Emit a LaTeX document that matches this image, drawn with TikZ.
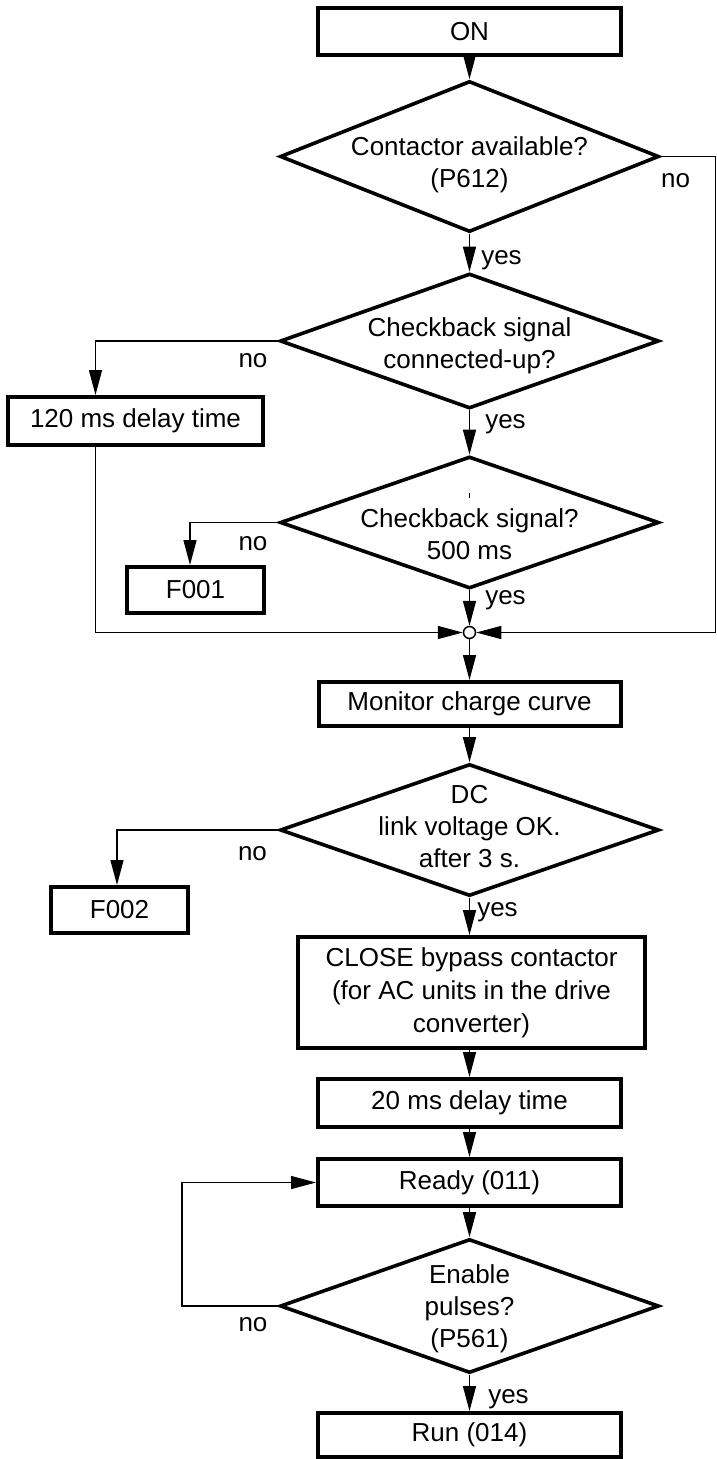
\documentclass[tikz,border=0pt]{standalone}
\usepackage{fontspec}
\setmainfont{Liberation Sans}
\usetikzlibrary{shapes.geometric,arrows.meta,calc}
\begin{document}
\begin{tikzpicture}[x=1pt,y=-1pt,
  box/.style={draw,line width=4pt,rectangle,inner sep=0pt,align=center,font=\fontsize{26}{33}\selectfont},
  dia/.style={draw,line width=3.6pt,diamond,inner sep=0pt,minimum width=379pt,minimum height=#1},
  txt/.style={align=center,font=\fontsize{26}{32}\selectfont,inner sep=0pt},
  lbl/.style={font=\fontsize{26}{31}\selectfont,inner sep=0pt},
  arr/.style={line width=1.4pt,-{Triangle[length=25pt,width=13pt]}},
]
\useasboundingbox (0,0) rectangle (717,1459);

% main column
\node[box,minimum width=303pt,minimum height=47pt] (on) at (469.5,31.5) {ON};
\node[dia=151pt] (d1) at (469.5,156.5) {};
\node[txt] (t1) at (469.5,165) {Contactor available?\\(P612)};
\node[dia=135pt] (d2) at (469.5,341) {};
\node[txt] (t2) at (469.5,346) {Checkback signal\\connected-up?};
\node[dia=132pt] (d3) at (469.5,522.5) {};
\node[txt] (t3) at (469.5,534) {Checkback signal?\\500 ms};
\node[circle,draw,line width=1.5pt,minimum size=12pt,inner sep=0pt] (m) at (469.5,632.5) {};
\node[box,minimum width=302pt,minimum height=44pt] (mon) at (469.5,704) {Monitor charge curve};
\node[dia=132pt] (d4) at (469.5,830) {};
\node[txt] (t4) at (469.5,827) {DC\\link voltage OK.\\after 3 s.};
\node[box,minimum width=347pt,minimum height=111pt] (close) at (471.5,992.5) {CLOSE bypass contactor\\(for AC units in the drive\\converter)};
\node[box,minimum width=303pt,minimum height=48pt] (d20) at (469.5,1103) {20 ms delay time};
\node[box,minimum width=303pt,minimum height=47pt] (ready) at (469.5,1182.5) {Ready (011)};
\node[dia=134pt] (d5) at (469.5,1306) {};
\node[txt] (t5) at (469.5,1309) {Enable\\pulses?\\(P561)};
\node[box,minimum width=303pt,minimum height=44pt] (run) at (469.5,1435) {Run (014)};

% side boxes
\node[box,minimum width=255pt,minimum height=48pt] (b120) at (135.5,421) {120 ms delay time};
\node[box,minimum width=137pt,minimum height=46pt] (f1) at (195.5,590) {F001};
\node[box,minimum width=137pt,minimum height=46pt] (f2) at (119.5,910) {F002};

% routing coordinates
\coordinate (rc) at (715.5,0);
\coordinate (lx) at (95.5,0);
\coordinate (l3) at (190,0);
\coordinate (l4) at (117,0);
\coordinate (lp) at (182,0);

% main arrows
\draw[arr] (on.south) -- (d1.north);
\draw[arr] (d1.south) -- (d2.north);
\draw[arr] (d2.south) -- (d3.north);
\draw[arr] (d3.south) -- (m.north);
\draw[arr] (m.south) -- (mon.north);
\draw[arr] (mon.south) -- (d4.north);
\draw[arr] (d4.south) -- (close.north -| d4.south);
\draw[arr] (close.south -| d4.south) -- (d20.north);
\draw[arr] (d20.south) -- (ready.north);
\draw[arr] (ready.south) -- (d5.north);
\draw[arr] (d5.south) -- (run.north);

% branches
\draw[arr] (d1.east) -- (d1.east -| rc) -- (m.east -| rc) -- (m.east);
\draw[arr] (d2.west) -- (d2.west -| lx) -- (b120.north -| lx);
\draw[arr] (b120.south -| lx) -- (m.west -| lx) -- (m.west);
\draw[arr] (d3.west) -- (d3.west -| l3) -- (f1.north -| l3);
\draw[arr] (d4.west) -- (d4.west -| l4) -- (f2.north -| l4);
\draw[arr] (d5.west) -- (d5.west -| lp) -- (ready.west -| lp) -- (ready.west);

% small mark above text
\draw[line width=1pt] (469.5,493) -- (469.5,498);

% labels
\node[lbl] (n1) at (675.5,181) {no};
\node[lbl] (y1) at (501.5,260) {yes};
\node[lbl] (n2) at (253,361) {no};
\node[lbl] (y2) at (505.5,424) {yes};
\node[lbl] (n3) at (253,544) {no};
\node[lbl] (y3) at (505.5,600) {yes};
\node[lbl] (n4) at (252.5,854) {no};
\node[lbl] (y4) at (497.5,912) {yes};
\node[lbl] (n5) at (253,1325) {no};
\node[lbl] (y5) at (508.5,1399) {yes};
\end{tikzpicture}
\end{document}
